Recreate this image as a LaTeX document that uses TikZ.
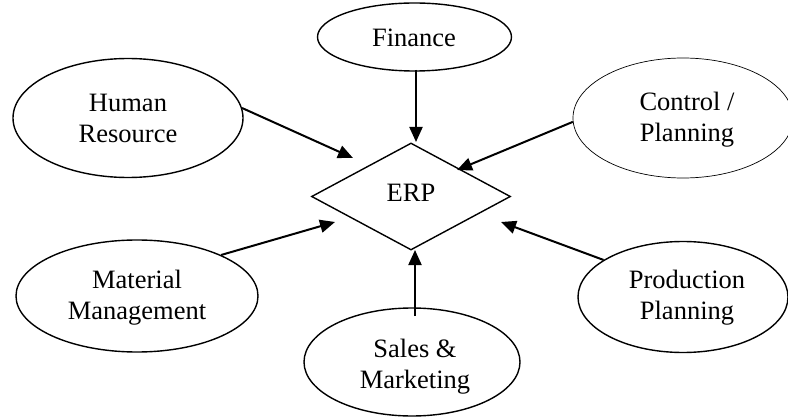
\documentclass[tikz,border=0pt]{standalone}
\usepackage{fontspec}
\setmainfont{Liberation Serif}
\usetikzlibrary{shapes.geometric,arrows.meta}
\begin{document}
\begin{tikzpicture}[x=1pt,y=-1pt,
  txt/.style={align=center,font=\fontsize{26.5}{31}\selectfont},
  oval/.style={ellipse,draw,line width=1.4pt,inner sep=0pt},
  thinoval/.style={oval,line width=0.7pt},
  link/.style={line width=2pt,-{Triangle[length=15pt,width=13pt]}}]
\useasboundingbox (0,0) rectangle (788,417);
\node[draw,diamond,line width=1.4pt,minimum width=199pt,minimum height=107pt,inner sep=0pt] (erp) at (411,196.5) {};
\node[txt] (erptext) at (411,193) {ERP};
\node[oval,minimum width=194pt,minimum height=68pt] (fin) at (414.5,37) {};
\node[txt] (fintext) at (414,38) {Finance};
\node[oval,minimum width=230pt,minimum height=119pt] (hr) at (128,118) {};
\node[txt] (hrtext) at (128,118) {Human\\Resource};
\node[thinoval,minimum width=220pt,minimum height=120pt] (ctl) at (683,118) {};
\node[txt] (ctltext) at (687,120) {Control /\\Planning};
\node[oval,minimum width=242pt,minimum height=112pt] (mat) at (137,296) {};
\node[txt] (mattext) at (137,298) {Material\\Management};
\node[oval,minimum width=210pt,minimum height=111pt] (prod) at (683,297) {};
\node[txt] (prodtext) at (687,298) {Production\\Planning};
\node[oval,minimum width=216pt,minimum height=108pt] (sal) at (412,362) {};
\node[txt] (saltext) at (415,367) {Sales \&\\Marketing};
\coordinate (tF) at (416,142);
\coordinate (tH) at (353,158);
\coordinate (tC) at (457,170);
\coordinate (tM) at (335,222);
\coordinate (tP) at (501,222);
\coordinate (tS) at (415,250);
\coordinate (sF) at (416,70);
\coordinate (sS) at (415,316);
\draw[link] (sF) -- (tF);
\draw[link] (hr.5) -- (tH);
\draw[link] (ctl.182) -- (tC);
\draw[link] (mat.26) -- (tM);
\draw[link] (prod.155) -- (tP);
\draw[link] (sS) -- (tS);
\end{tikzpicture}
\end{document}
